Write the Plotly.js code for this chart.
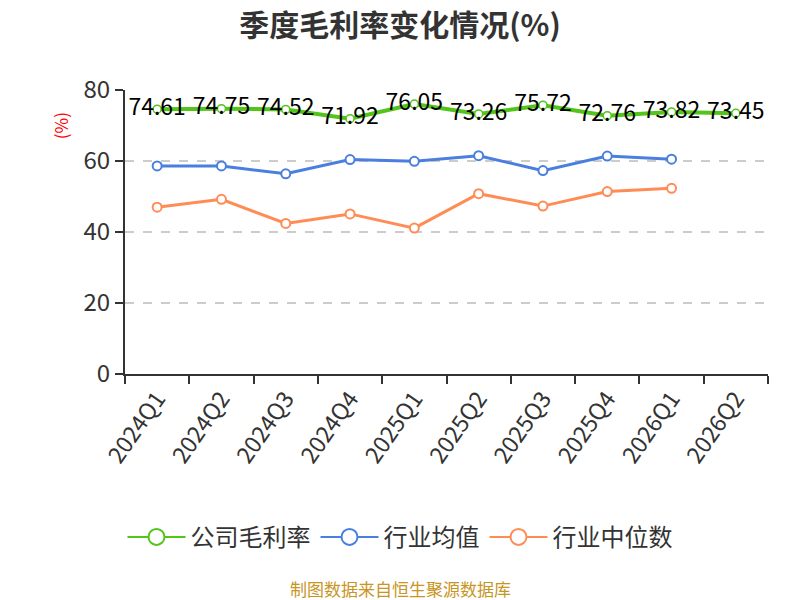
<!DOCTYPE html>
<html>
<head>
<meta charset="utf-8">
<script src="https://cdn.plot.ly/plotly-3.0.1.min.js"></script>
<style>
  html, body { margin: 0; padding: 0; background: #fff; }
  #chart { width: 800px; height: 600px; }
</style>
</head>
<body>
<div id="chart"></div>
<script>
// Chart data
const quarters = ['2024Q1', '2024Q2', '2024Q3', '2024Q4', '2025Q1', '2025Q2', '2025Q3', '2025Q4', '2026Q1', '2026Q2'];
const companyMargin = [74.61, 74.75, 74.52, 71.92, 76.05, 73.26, 75.72, 72.76, 73.82, 73.45];
const industryMean = [58.6, 58.6, 56.4, 60.4, 59.9, 61.5, 57.3, 61.4, 60.5, null];
const industryMedian = [47.0, 49.2, 42.4, 45.1, 41.1, 50.8, 47.3, 51.4, 52.3, null];

const seriesNames = ['公司毛利率', '行业均值', '行业中位数'];
const seriesColors = ['#52c41a', '#4a7fe0', '#ff8c55'];

const FONT = 'Noto Sans CJK SC, Noto Sans, sans-serif';
// horizontal centre of the 800px page, as a fraction of the plot area
const PAGE_MID = (400 - 125) / 643;

function lineTrace(name, y, color, width) {
    return {
        x: quarters,
        y: y,
        name: name,
        type: 'scatter',
        mode: 'lines+markers',
        line: { color: color, width: width },
        marker: { symbol: 'circle', size: 9, color: '#ffffff', line: { color: color, width: 2 } },
        cliponaxis: false,
        showlegend: false
    };
}

// legend-only entries (thin line, big hollow circle)
function legendTrace(name, color) {
    return {
        x: [null],
        y: [null],
        name: name,
        type: 'scatter',
        mode: 'lines+markers',
        line: { color: color, width: 2 },
        marker: { symbol: 'circle', size: 20, color: '#ffffff', line: { color: color, width: 2 } },
        showlegend: true,
        hoverinfo: 'skip'
    };
}

const traces = [
    Object.assign(lineTrace(seriesNames[0], companyMargin, seriesColors[0], 4), {
        mode: 'lines+markers+text',
        text: companyMargin.map(v => v.toFixed(2)),
        textposition: 'middle center',
        textfont: { family: FONT, size: 23, color: '#000000' },
        marker: { symbol: 'circle', size: 8, color: '#ffffff', line: { color: seriesColors[0], width: 1.5 } }
    }),
    lineTrace(seriesNames[1], industryMean, seriesColors[1], 3),
    lineTrace(seriesNames[2], industryMedian, seriesColors[2], 3),
    legendTrace(seriesNames[0], seriesColors[0]),
    legendTrace(seriesNames[1], seriesColors[1]),
    legendTrace(seriesNames[2], seriesColors[2])
];

const layout = {
    width: 800,
    height: 600,
    paper_bgcolor: '#ffffff',
    plot_bgcolor: '#ffffff',
    margin: { l: 125, r: 32, t: 90, b: 226 },
    font: { family: FONT, color: '#333333' },
    title: {
        text: '<b>季度毛利率变化情况(%)</b>',
        x: 0.5, xanchor: 'center',
        y: 0.958, yanchor: 'middle',
        font: { family: FONT, size: 30, color: '#333333' }
    },
    xaxis: {
        type: 'category',
        range: [-0.5, 9.5],
        tickson: 'boundaries',
        ticks: 'outside',
        ticklen: 8,
        tickwidth: 2,
        tickcolor: '#333333',
        tickangle: -55,
        tickfont: { family: FONT, size: 23, color: '#333333' },
        showline: true,
        linecolor: '#333333',
        linewidth: 2,
        showgrid: false,
        zeroline: false
    },
    yaxis: {
        range: [0, 80],
        dtick: 20,
        ticks: 'outside',
        ticklen: 8,
        tickwidth: 2,
        tickcolor: '#333333',
        tickfont: { family: FONT, size: 24, color: '#333333' },
        showline: true,
        linecolor: '#333333',
        linewidth: 2,
        gridcolor: '#cccccc',
        griddash: 'dash',
        gridwidth: 1.5,
        zeroline: false
    },
    showlegend: true,
    legend: {
        orientation: 'h',
        x: PAGE_MID, xanchor: 'center',
        y: -0.575, yanchor: 'middle',
        font: { family: FONT, size: 24, color: '#333333' },
        itemwidth: 58,
        tracegroupgap: 0
    },
    annotations: [
        {
            text: '(%)',
            xref: 'paper', yref: 'paper',
            x: -0.1, y: 0.875,
            xanchor: 'center', yanchor: 'middle',
            textangle: -90,
            showarrow: false,
            font: { family: FONT, size: 17, color: '#ff0000' }
        },
        {
            text: '制图数据来自恒生聚源数据库',
            xref: 'paper', yref: 'paper',
            x: PAGE_MID, y: -0.755,
            xanchor: 'center', yanchor: 'middle',
            showarrow: false,
            font: { family: FONT, size: 17, color: '#c8951f' }
        }
    ]
};

Plotly.newPlot('chart', traces, layout, { displayModeBar: false, staticPlot: true });
</script>
</body>
</html>
